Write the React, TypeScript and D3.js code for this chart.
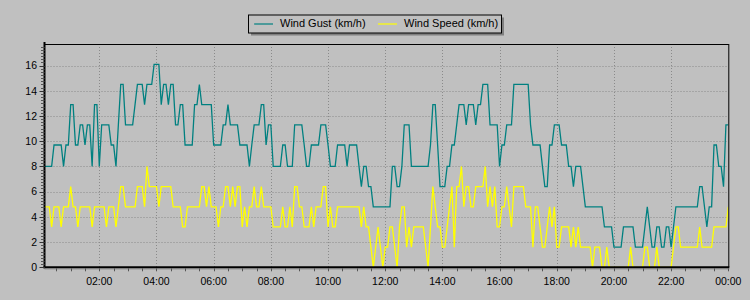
import React from "react";
import * as d3 from "d3";

// Readings every 5 minutes, from 00:05 to 24:00 (288 readings)
const FIRST_MINUTE = 5;
const STEP_MINUTES = 5;

const windGust = [
  8.0, 8.0, 8.0, 8.0, 9.7, 9.7, 9.7, 9.7, 8.0, 9.7, 9.7, 12.9,
  12.9, 9.7, 9.7, 11.3, 11.3, 9.7, 11.3, 11.3, 8.0, 12.9, 12.9, 8.0,
  11.3, 11.3, 11.3, 11.3, 9.7, 9.7, 8.0, 11.3, 14.5, 14.5, 11.3, 11.3,
  11.3, 11.3, 12.9, 14.5, 14.5, 14.5, 12.9, 14.5, 14.5, 14.5, 16.1, 16.1,
  16.1, 12.9, 14.5, 14.5, 12.9, 14.5, 14.5, 11.3, 11.3, 12.9, 12.9, 9.7,
  9.7, 9.7, 9.7, 12.9, 12.9, 14.5, 12.9, 12.9, 12.9, 12.9, 12.9, 9.7,
  9.7, 9.7, 9.7, 11.3, 11.3, 12.9, 11.3, 11.3, 11.3, 11.3, 9.7, 9.7,
  9.7, 9.7, 8.0, 9.7, 11.3, 11.3, 11.3, 12.9, 12.9, 9.7, 11.3, 11.3,
  8.0, 8.0, 8.0, 8.0, 9.7, 9.7, 8.0, 8.0, 8.0, 11.3, 11.3, 11.3,
  11.3, 9.7, 8.0, 8.0, 9.7, 9.7, 9.7, 9.7, 11.3, 11.3, 11.3, 9.7,
  8.0, 8.0, 8.0, 9.7, 9.7, 9.7, 9.7, 8.0, 9.7, 9.7, 9.7, 9.7,
  8.0, 6.4, 8.0, 8.0, 6.4, 6.4, 4.8, 4.8, 4.8, 4.8, 4.8, 4.8,
  4.8, 4.8, 8.0, 8.0, 6.4, 6.4, 8.0, 11.3, 11.3, 11.3, 8.0, 8.0,
  8.0, 8.0, 8.0, 8.0, 8.0, 8.0, 9.7, 12.9, 12.9, 9.7, 6.4, 6.4,
  6.4, 8.0, 8.0, 9.7, 9.7, 11.3, 12.9, 12.9, 12.9, 11.3, 12.9, 12.9,
  12.9, 11.3, 12.9, 12.9, 14.5, 14.5, 14.5, 11.3, 11.3, 11.3, 11.3, 8.0,
  9.7, 9.7, 11.3, 11.3, 11.3, 14.5, 14.5, 14.5, 14.5, 14.5, 14.5, 14.5,
  11.3, 9.7, 9.7, 9.7, 9.7, 8.0, 6.4, 6.4, 9.7, 9.7, 11.3, 11.3,
  11.3, 9.7, 9.7, 9.7, 8.0, 8.0, 6.4, 8.0, 8.0, 8.0, 6.4, 4.8,
  4.8, 4.8, 4.8, 4.8, 4.8, 4.8, 4.8, 3.2, 3.2, 3.2, 3.2, 1.6,
  1.6, 1.6, 1.6, 3.2, 3.2, 3.2, 3.2, 3.2, 1.6, 1.6, 1.6, 1.6,
  3.2, 4.8, 3.2, 1.6, 1.6, 3.2, 3.2, 1.6, 1.6, 3.2, 3.2, 1.6,
  3.2, 4.8, 4.8, 4.8, 4.8, 4.8, 4.8, 4.8, 4.8, 4.8, 4.8, 6.4,
  6.4, 4.8, 3.2, 4.8, 4.8, 9.7, 9.7, 8.0, 8.0, 6.4, 11.3, 11.3,
];

const windSpeed = [
  4.8, 4.8, 4.8, 3.2, 4.8, 4.8, 4.8, 3.2, 4.8, 4.8, 4.8, 6.4,
  4.8, 4.8, 3.2, 4.8, 4.8, 4.8, 4.8, 4.8, 3.2, 4.8, 4.8, 4.8,
  4.8, 4.8, 3.2, 4.8, 4.8, 4.8, 3.2, 4.8, 6.4, 6.4, 4.8, 4.8,
  4.8, 4.8, 4.8, 6.4, 6.4, 6.4, 4.8, 8.0, 6.4, 6.4, 6.4, 6.4,
  4.8, 6.4, 6.4, 6.4, 6.4, 6.4, 4.8, 4.8, 4.8, 4.8, 3.2, 3.2,
  4.8, 4.8, 4.8, 4.8, 4.8, 4.8, 6.4, 6.4, 4.8, 6.4, 4.8, 4.8,
  4.8, 3.2, 4.8, 4.8, 6.4, 6.4, 4.8, 6.4, 4.8, 6.4, 6.4, 3.2,
  4.8, 3.2, 4.8, 4.8, 6.4, 4.8, 4.8, 6.4, 4.8, 4.8, 4.8, 4.8,
  3.2, 3.2, 3.2, 3.2, 4.8, 3.2, 3.2, 4.8, 3.2, 6.4, 6.4, 4.8,
  4.8, 3.2, 3.2, 3.2, 4.8, 3.2, 4.8, 4.8, 4.8, 6.4, 6.4, 3.2,
  4.8, 3.2, 3.2, 4.8, 4.8, 4.8, 4.8, 4.8, 4.8, 4.8, 4.8, 4.8,
  4.8, 3.2, 4.8, 3.2, 3.2, 1.6, 0, 1.6, 3.2, 1.6, 0, 1.6,
  1.6, 3.2, 3.2, 1.6, 0, 3.2, 4.8, 4.8, 1.6, 3.2, 1.6, 3.2,
  3.2, 3.2, 3.2, 3.2, 1.6, 0, 3.2, 6.4, 4.8, 3.2, 3.2, 1.6,
  1.6, 3.2, 4.8, 6.4, 1.6, 6.4, 6.4, 8.0, 4.8, 6.4, 6.4, 4.8,
  4.8, 6.4, 6.4, 6.4, 6.4, 8.0, 4.8, 6.4, 4.8, 6.4, 3.2, 3.2,
  4.8, 4.8, 6.4, 4.8, 3.2, 6.4, 6.4, 6.4, 6.4, 6.4, 4.8, 4.8,
  4.8, 1.6, 4.8, 4.8, 3.2, 1.6, 1.6, 3.2, 4.8, 3.2, 4.8, 1.6,
  1.6, 3.2, 3.2, 3.2, 3.2, 1.6, 3.2, 1.6, 3.2, 1.6, 1.6, 1.6,
  1.6, 1.6, 0, 1.6, 1.6, 1.6, 0, 0, 1.6, 0, 0, 0,
  0, 0, 0, 0, 0, 0, 1.6, 0, 0, 0, 0, 0,
  1.6, 1.6, 0, 0, 0, 1.6, 0, 0, 0, 0, 0, 0,
  1.6, 3.2, 3.2, 1.6, 1.6, 1.6, 1.6, 1.6, 1.6, 1.6, 1.6, 3.2,
  1.6, 1.6, 1.6, 1.6, 1.6, 3.2, 3.2, 3.2, 3.2, 3.2, 3.2, 4.8,
];

const seriesNames = ["Wind Gust (km/h)", "Wind Speed (km/h)"];
const seriesColors = ["#008080", "#ffff00"];

const yTickValues = [0, 2, 4, 6, 8, 10, 12, 14, 16];
const yMaxValue = 17.71;
const xTickMinutes = [120, 240, 360, 480, 600, 720, 840, 960, 1080, 1200, 1320, 1440];
const xTickLabels = ["02:00", "04:00", "06:00", "08:00", "10:00", "12:00", "14:00", "16:00", "18:00", "20:00", "22:00", "00:00"];

const FONT = "'Liberation Sans', Arial, sans-serif";

export default function App() {
  const W = 750;
  const H = 300;
  const left = 44.5;
  const right = 728.3;
  const top = 44;
  const bottom = 267.3;

  const x = d3.scaleLinear().domain([FIRST_MINUTE, 1440]).range([left, right]);
  const y = d3.scaleLinear().domain([0, yMaxValue]).range([bottom, top]);

  const line = d3
    .line<number>()
    .x((_, i) => x(FIRST_MINUTE + i * STEP_MINUTES))
    .y((d) => y(d));

  const minorX = d3.range(30, 1441, 30);
  const minorY = d3.range(0, yMaxValue, 0.25);

  const legendX = 248;
  const legendY = 14.5;
  const legendW = 253;
  const legendH = 18;
  const legendMid = legendY + legendH / 2;
  const legendItems = [
    { lx: 254, tx: 280 },
    { lx: 378, tx: 404 },
  ];

  return (
    <svg
      width={W}
      height={H}
      style={{ position: "fixed", left: 0, top: 0, display: "block" }}
      fontFamily={FONT}
    >
      <rect x={0} y={0} width={W} height={H} fill="#c0c0c0" />

      {/* gridlines */}
      {yTickValues
        .filter((v) => v > 0)
        .map((v) => (
          <line
            key={"gy" + v}
            x1={left}
            x2={right}
            y1={Math.round(y(v)) + 0.5}
            y2={Math.round(y(v)) + 0.5}
            stroke="#8a8a8a"
            strokeDasharray="1,2"
          />
        ))}
      {xTickMinutes
        .filter((m) => m < 1440)
        .map((m) => (
          <line
            key={"gx" + m}
            x1={Math.round(x(m)) + 0.5}
            x2={Math.round(x(m)) + 0.5}
            y1={top}
            y2={bottom}
            stroke="#8a8a8a"
            strokeDasharray="1,2"
          />
        ))}

      {/* series */}
      <g clipPath="url(#plotClip)">
        <path d={line(windGust) || ""} fill="none" stroke={seriesColors[0]} strokeWidth={1.3} />
        <path d={line(windSpeed) || ""} fill="none" stroke={seriesColors[1]} strokeWidth={1.3} />
      </g>
      <defs>
        <clipPath id="plotClip">
          <rect x={left} y={top} width={right - left} height={bottom - top + 1} />
        </clipPath>
      </defs>

      {/* frame */}
      <line x1={left} x2={right + 0.5} y1={top + 0.5} y2={top + 0.5} stroke="#000" strokeWidth={1} />
      <line x1={right + 0.5} x2={right + 0.5} y1={top} y2={bottom} stroke="#000" strokeWidth={1} />
      <line x1={left} x2={left} y1={top - 2} y2={bottom + 1} stroke="#000" strokeWidth={2} />
      <line x1={left - 1} x2={right + 1} y1={bottom} y2={bottom} stroke="#000" strokeWidth={2} />
      <line x1={left} x2={right + 1} y1={bottom + 1.5} y2={bottom + 1.5} stroke="#7a7a7a" strokeWidth={1} />

      {/* y ticks */}
      {minorY.map((v) => (
        <line
          key={"my" + v}
          x1={left - 3.5}
          x2={left}
          y1={Math.round(y(v)) + 0.5}
          y2={Math.round(y(v)) + 0.5}
          stroke="#555"
        />
      ))}
      {yTickValues.map((v) => (
        <g key={"ty" + v}>
          <line x1={left - 5} x2={left} y1={Math.round(y(v)) + 0.5} y2={Math.round(y(v)) + 0.5} stroke="#333" />
          <text x={37} y={y(v)} dy="0.36em" textAnchor="end" fontSize={10.5} fill="#000">
            {v}
          </text>
        </g>
      ))}

      {/* x ticks */}
      {minorX.map((m) => (
        <line
          key={"mx" + m}
          x1={Math.round(x(m)) + 0.5}
          x2={Math.round(x(m)) + 0.5}
          y1={bottom + 1}
          y2={bottom + 4}
          stroke="#555"
        />
      ))}
      {xTickMinutes.map((m, i) => (
        <text key={"tx" + m} x={x(m)} y={284.7} textAnchor="middle" fontSize={10.5} fill="#000">
          {xTickLabels[i]}
        </text>
      ))}

      {/* legend */}
      <rect x={legendX + 3} y={legendY + 3} width={legendW} height={legendH} fill="#6f6f6f" opacity={0.8} />
      <rect x={legendX + 0.5} y={legendY + 0.5} width={legendW} height={legendH} fill="#c0c0c0" stroke="#000" strokeWidth={1} />
      {legendItems.map((it, i) => (
        <g key={"lg" + i}>
          <line x1={it.lx} x2={it.lx + 19} y1={legendMid + 0.5} y2={legendMid + 0.5} stroke={seriesColors[i]} strokeWidth={1.2} />
          <text x={it.tx} y={legendMid} dy="0.36em" fontSize={11} fill="#000">
            {seriesNames[i]}
          </text>
        </g>
      ))}
    </svg>
  );
}
